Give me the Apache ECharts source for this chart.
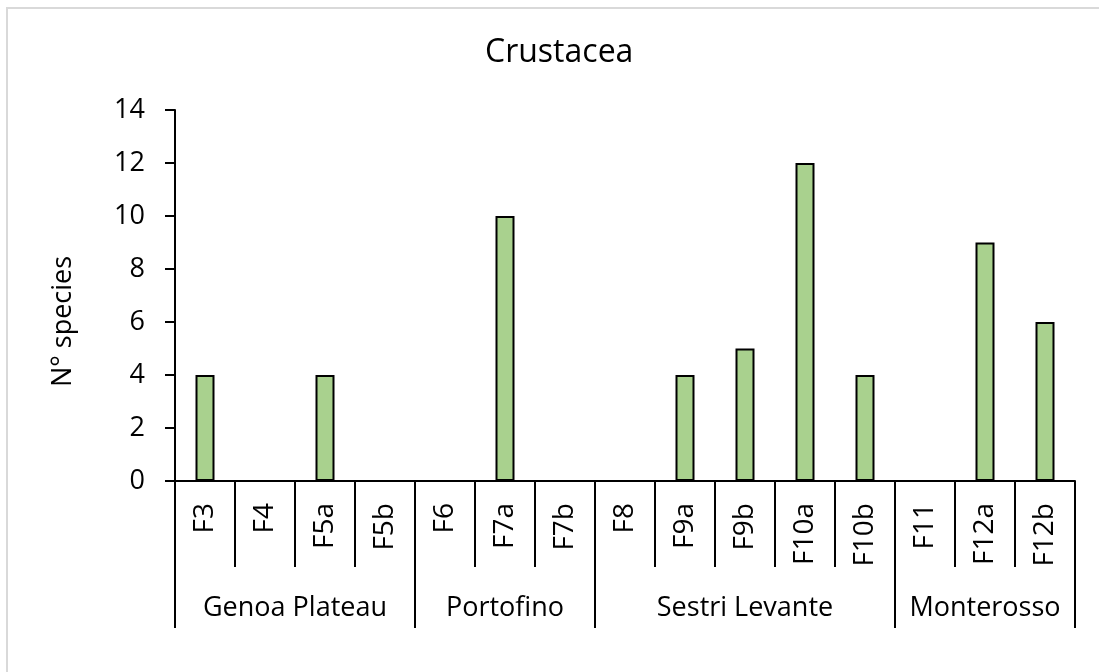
<!DOCTYPE html>
<html>
<head>
<meta charset="utf-8">
<script src="https://cdn.jsdelivr.net/npm/echarts@6/dist/echarts.min.js"></script>
<style>
  html, body { margin: 0; padding: 0; background: #fff; }
  #chart { width: 1099px; height: 672px; }
</style>
</head>
<body>
<div id="chart"></div>
<script>
// sites along x axis
const categories = ['F3', 'F4', 'F5a', 'F5b', 'F6', 'F7a', 'F7b', 'F8', 'F9a', 'F9b', 'F10a', 'F10b', 'F11', 'F12a', 'F12b'];
// number of crustacean species per site
const speciesCount = [4, 0, 4, 0, 0, 10, 0, 0, 4, 5, 12, 4, 0, 9, 6];
// area groups and how many sites each one holds
const groupNames = ['Genoa Plateau', 'Portofino', 'Sestri Levante', 'Monterosso'];
const groupSizes = [4, 3, 5, 3];
const yTicks = [0, 2, 4, 6, 8, 10, 12, 14];

// group edges / centres in category units
const groupEdges = [0];
groupSizes.forEach(n => groupEdges.push(groupEdges[groupEdges.length - 1] + n));
const groupCenters = groupNames.map((g, i) => (groupEdges[i] + groupEdges[i + 1]) / 2);

const FONT = '"Open Sans", "Noto Sans", sans-serif';
const LINE = { color: '#000', width: 2 };

const chart = echarts.init(document.getElementById('chart'), null, { renderer: 'canvas' });

const option = {
  backgroundColor: '#ffffff',
  animation: false,
  title: {
    text: 'Crustacea',
    left: 480,
    top: 32,
    textStyle: { fontFamily: FONT, fontSize: 32, fontWeight: 'normal', color: '#000' }
  },
  graphic: [{
    type: 'rect',
    shape: { x: 7, y: 8, width: 1200, height: 800 },
    style: { fill: 'none', stroke: '#d9d9d9', lineWidth: 2 }
  }],
  grid: { left: 175, right: 24, top: 110, bottom: 191 },
  xAxis: [{
    type: 'category',
    data: categories,
    boundaryGap: true,
    axisLine: { lineStyle: LINE },
    axisTick: { show: true, interval: 0, length: 86, alignWithLabel: false, lineStyle: LINE },
    axisLabel: { interval: 0, rotate: 90, margin: 22, fontFamily: FONT, fontSize: 28, color: '#000' },
    splitLine: { show: false }
  }, {
    type: 'value',
    position: 'bottom',
    min: 0,
    max: categories.length,
    axisLine: { show: false },
    splitLine: { show: false },
    axisTick: { show: true, customValues: groupEdges, length: 147, lineStyle: LINE },
    axisLabel: {
      customValues: groupCenters,
      margin: 114,
      fontFamily: FONT, fontSize: 27, color: '#000',
      formatter: v => {
        const i = groupCenters.indexOf(v);
        return i >= 0 ? groupNames[i] : '';
      }
    }
  }],
  yAxis: {
    type: 'value',
    min: yTicks[0],
    max: yTicks[yTicks.length - 1],
    interval: 2,
    name: 'N° species',
    nameLocation: 'middle',
    nameRotate: 90,
    nameGap: 98,
    nameTextStyle: { fontFamily: FONT, fontSize: 27, color: '#000', padding: [0, 52, 0, 0] },
    axisLine: { show: true, lineStyle: LINE },
    axisTick: { show: true, length: 10, lineStyle: LINE },
    axisLabel: { margin: 30, fontFamily: FONT, fontSize: 27, color: '#000' },
    splitLine: { show: false }
  },
  series: [{
    type: 'bar',
    xAxisIndex: 0,
    // empty sites get no outline, like the original
    data: speciesCount.map(v => v === 0 ? { value: v, itemStyle: { borderWidth: 0 } } : v),
    barWidth: 19,
    itemStyle: { color: '#a9d18e', borderColor: '#000', borderWidth: 2 }
  }]
};

chart.setOption(option);
</script>
</body>
</html>
